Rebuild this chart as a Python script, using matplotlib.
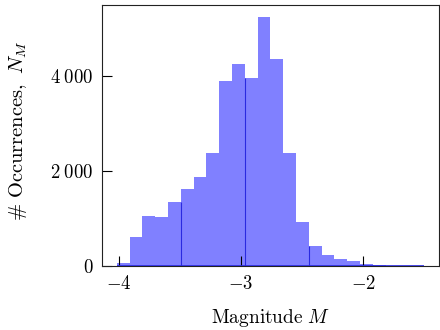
import numpy as np
import matplotlib
matplotlib.use('Agg')
import matplotlib.pyplot as plt

# histogram of magnitudes
bin_start = -4.016
bin_width = 0.1048
counts = [77, 621, 1061, 1040, 1354, 1627, 1878, 2380, 3895, 4244, 3965, 5229,
          4349, 2380, 940, 437, 245, 161, 102, 56, 35, 12, 8, 5]
xticks = [-4, -3, -2]
xtick_labels = ['$-4$', '$-3$', '$-2$']
yticks = [0, 2000, 4000]
ytick_labels = ['$0$', r'$2\;000$', r'$4\;000$']

plt.rcParams['mathtext.fontset'] = 'cm'
plt.rcParams['font.family'] = 'serif'
plt.rcParams['font.serif'] = ['cmr10', 'DejaVu Serif']
plt.rcParams['axes.formatter.use_mathtext'] = True

edges = bin_start + bin_width * np.arange(len(counts) + 1)
counts = np.array(counts)

fig = plt.figure(figsize=(4.4, 3.3), dpi=100)
ax = fig.add_axes([0.2307, 0.193, 0.9984 - 0.2307, 0.985 - 0.193])

ax.bar(edges[:-1], counts, width=np.diff(edges), align='edge',
       color='#8080ff', linewidth=0, zorder=1)

# darker bar edges every fifth bin, as in the rendered original
idx = np.arange(5, len(counts), 5)
tops = np.minimum(counts[idx - 1], counts[idx])
ax.vlines(edges[idx], 0, tops, color='#2a2ae0', lw=0.8, zorder=2)
ax.hlines(0, edges[0], edges[-1], color='#2a2ae0', lw=1.2, zorder=3)

span = edges[-1] - edges[0]
ax.set_xlim(edges[0] - 0.05 * span, edges[-1] + 0.05 * span)
ax.set_ylim(0, 1.05 * counts.max())

ax.set_xticks(xticks)
ax.set_xticklabels(xtick_labels)
ax.set_yticks(yticks)
ax.set_yticklabels(ytick_labels)
ax.tick_params(direction='in', length=7.5, width=0.8, labelsize=13.5, color='black')
ax.tick_params(axis='x', pad=6)
ax.tick_params(axis='y', pad=6)

for s in ax.spines.values():
    s.set_linewidth(0.8)
    s.set_color('#222222')

ax.set_xlabel(r'$\mathrm{Magnitude}\ M$', fontsize=14)
ax.set_ylabel(r'$\#\ \mathrm{Occurrences,}\ N_M$', fontsize=14.8)
ax.xaxis.set_label_coords(0.5, -0.155)
ax.yaxis.set_label_coords(-0.215, 0.52)

fig.savefig('out.png', dpi=100)
